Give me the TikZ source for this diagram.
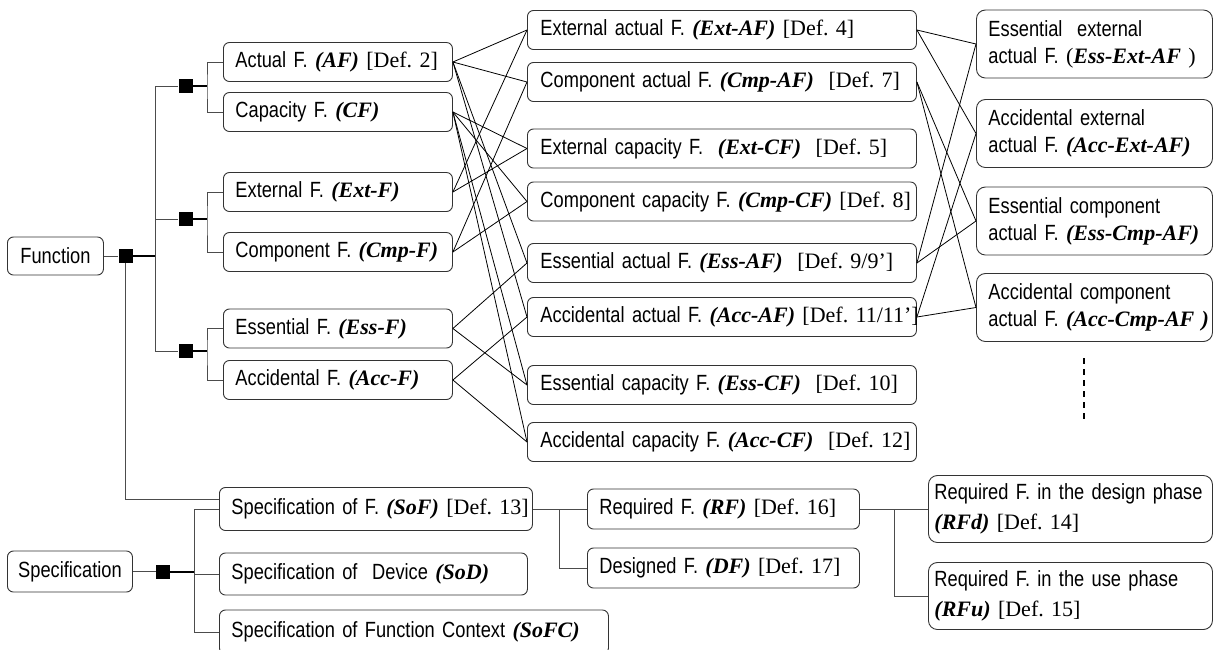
\documentclass[tikz,border=0pt]{standalone}
\usepackage{fontspec}
\setmainfont[FakeStretch=0.83]{Liberation Sans}
\newfontfamily\tms{Liberation Serif}
\newcommand{\ab}[1]{{\tms\bfseries\itshape #1}}
\newcommand{\df}[1]{{\tms #1}}

\begin{document}
\begin{tikzpicture}[x=1pt, y=-1pt,
  font=\fontsize{22}{27}\selectfont\frenchspacing,
  box/.style={draw=black!80, line width=0.9pt, rounded corners=6pt, anchor=west, inner xsep=12pt, inner ysep=0pt, align=left},
  colA/.style={box, text width=205pt, minimum height=39pt},
  colB/.style={box, inner xsep=13pt, text width=363pt, minimum height=39pt},
  colC/.style={box, rounded corners=9pt, inner xsep=12pt, text width=212pt, minimum height=68pt},
  req/.style={box, rounded corners=9pt, inner xsep=6pt, text width=272pt, minimum height=67pt, font=\fontsize{22}{30}\selectfont\frenchspacing},
  root/.style={box, align=center, inner xsep=0pt, minimum height=38pt},
  sq/.style={fill=black, minimum size=14pt, inner sep=0pt},
  tree/.style={draw=black!70, line width=0.9pt},
  bar/.style={line width=2pt},
  link/.style={line width=0.8pt}]
\useasboundingbox (0,0) rectangle (1213,649);

\node[root, minimum width=96pt] (func) at (7,256) {Function};
\node[root, minimum width=125pt, minimum height=41pt] (spec) at (7,571.5) {Specification};

\node[colA] (af)   at (223,62)    {\mbox{Actual F. \ab{(AF)} \df{[Def. 2]}}};
\node[colA] (cf)   at (223,112)   {Capacity F. \ab{(CF)}};
\node[colA] (extf) at (223,192)   {External F. \ab{(Ext-F)}};
\node[colA] (cmpf) at (223,252)   {\mbox{Component F. \ab{(Cmp-F)}}};
\node[colA] (essf) at (223,328.5) {Essential F. \ab{(Ess-F)}};
\node[colA] (accf) at (223,380)   {\mbox{Accidental F. \ab{(Acc-F)}}};

\node[colB] (extaf) at (527,30)    {\mbox{External actual F. \ab{(Ext-AF)} \df{[Def. 4]}}};
\node[colB] (cmpaf) at (527,82)    {\mbox{Component actual F. \ab{(Cmp-AF)}\ \ \df{[Def. 7]}}};
\node[colB] (extcf) at (527,148.5) {\mbox{External capacity F.\ \ \ab{(Ext-CF)}\ \ \df{[Def. 5]}}};
\node[colB] (cmpcf) at (527,201.5) {\mbox{Component capacity F. \ab{(Cmp-CF)} \df{[Def. 8]}}};
\node[colB] (essaf) at (527,263)   {\mbox{Essential actual F. \ab{(Ess-AF)}\ \ \df{[Def. 9/9’]}}};
\node[colB] (accaf) at (527,317)   {\mbox{Accidental actual F. \ab{(Acc-AF)} \df{[Def. 11/11’]}}};
\node[colB] (esscf) at (527,385)   {\mbox{Essential capacity F. \ab{(Ess-CF)}\ \ \df{[Def. 10]}}};
\node[colB] (acccf) at (527,442)   {\mbox{Accidental capacity F. \ab{(Acc-CF)}\ \ \df{[Def. 12]}}};

\node[colC] (essextaf) at (976,44)    {Essential\ \ external\\\mbox{actual F. \df{(}\ab{Ess-Ext-AF}\df{ )}}};
\node[colC] (accextaf) at (976,133.5) {Accidental external\\\mbox{actual F. \ab{(Acc-Ext-AF)}}};
\node[colC] (esscmpaf) at (976,221)   {Essential component\\\mbox{actual F. \ab{(Ess-Cmp-AF)}}};
\node[colC] (acccmpaf) at (976,307.5) {Accidental component\\\mbox{actual F. \ab{(Acc-Cmp-AF\ )}}};
\coordinate (v1) at (1084,358);
\coordinate (v2) at (1084,422);
\draw[line width=1.6pt, dash pattern=on 6pt off 5pt] (v1) -- (v2);

\node[box, text width=289pt, minimum height=43pt] (sof) at (219,509) {\mbox{Specification of F. \ab{(SoF)} \df{[Def. 13]}}};
\node[box, text width=284pt, minimum height=42pt] (sod) at (219,574) {Specification of\ \ Device \ab{(SoD)}};
\node[box, text width=365pt, minimum height=44pt] (sofc) at (219,632) {\mbox{Specification of Function Context \ab{(SoFC)}}};
\node[box, text width=248pt, minimum height=40pt] (rf) at (587,509) {\mbox{Required F. \ab{(RF)} \df{[Def. 16]}}};
\node[box, text width=248pt, minimum height=40pt] (df) at (587,568) {\mbox{Designed F. \ab{(DF)} \df{[Def. 17]}}};
\node[req] (rfd) at (928,509) {\mbox{Required F. in the design phase}\\\ab{(RFd)} \df{[Def. 14]}};
\node[req] (rfu) at (928,596) {\mbox{Required F. in the use phase}\\\ab{(RFu)} \df{[Def. 15]}};

\node[sq] (s0) at (125.5,256) {};
\node[sq] (s1) at (185.5,86) {};
\node[sq] (s2) at (185.5,219) {};
\node[sq] (s3) at (185.5,351) {};
\node[sq] (s4) at (163,571.5) {};
\coordinate (t0) at (155,256);
\coordinate (t1) at (207,86);
\coordinate (t2) at (207,219);
\coordinate (t3) at (207,351);
\coordinate (t4) at (194.5,571.5);
\coordinate (j5) at (559,509);
\coordinate (j6) at (894.5,509);

\draw[tree] (func) -- (s0);
\draw[bar] (s0) -- (t0);
\draw[tree] (t0 |- s1) -- (t0 |- s3);
\foreach \s/\t in {s1/t1, s2/t2, s3/t3} {
  \draw[tree] (t0 |- \s) -- (\s);
  \draw[bar] (\s) -- (\t);
}
\draw[tree] (af.west) -| (t1) |- (cf.west);
\draw[tree] (extf.west) -| (t2) |- (cmpf.west);
\draw[tree] (essf.west) -| (t3) |- (accf.west);
\draw[tree] (s0.south) |- ([yshift=10pt]sof.west);

\draw[tree] (spec) -- (s4);
\draw[bar] (s4) -- (t4);
\draw[tree] (t4) |- (sof.west);
\draw[tree] (t4) |- (sod.west);
\draw[tree] (t4) |- (sofc.west);
\draw[tree] (sof.east) -- (j5) -- (rf.west);
\draw[tree] (j5) |- (df.west);
\draw[tree] (rf.east) -- (j6) -- (rfd.west);
\draw[tree] (j6) |- (rfu.west);

\foreach \a/\b in {af/extaf, af/cmpaf, af/essaf, af/accaf, cf/extcf, cf/cmpcf, cf/esscf, cf/acccf,
    extf/extaf, extf/extcf, cmpf/cmpaf, cmpf/cmpcf, essf/essaf, essf/esscf, accf/accaf, accf/acccf}
  \draw[link] (\a.east) -- (\b.west);
\foreach \a/\b in {extaf/essextaf, extaf/accextaf, cmpaf/esscmpaf, cmpaf/acccmpaf,
    essaf/essextaf, essaf/esscmpaf, accaf/accextaf, accaf/acccmpaf}
  \draw[link] (\a.east) -- (\b.west);
\end{tikzpicture}
\end{document}
